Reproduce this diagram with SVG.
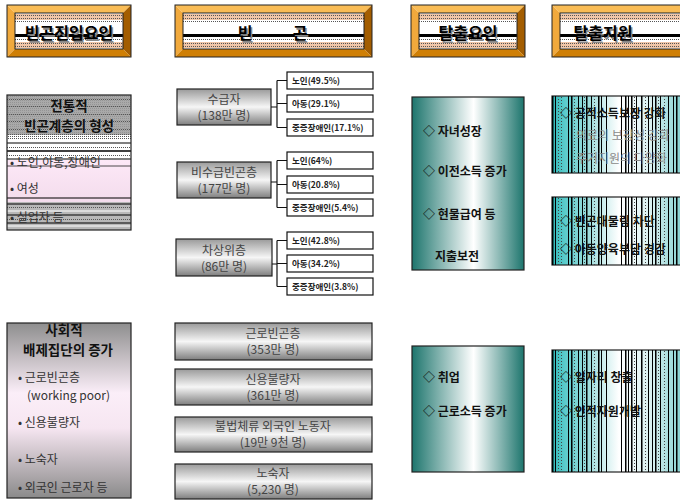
<svg xmlns="http://www.w3.org/2000/svg" width="680" height="502" viewBox="0 0 680 502">
<defs>
  <linearGradient id="gGray" x1="0" y1="0" x2="0" y2="1">
    <stop offset="0" stop-color="#9a9a9a"/>
    <stop offset="0.5" stop-color="#f6f6f6"/>
    <stop offset="1" stop-color="#7e7e7e"/>
  </linearGradient>
  <linearGradient id="gLeft2" x1="0" y1="0" x2="0" y2="1">
    <stop offset="0" stop-color="#8e8e8e"/>
    <stop offset="0.4" stop-color="#fbeef8"/>
    <stop offset="0.6" stop-color="#f6e6f1"/>
    <stop offset="1" stop-color="#8a8a8a"/>
  </linearGradient>
  <linearGradient id="gPink" x1="0" y1="0" x2="0" y2="1">
    <stop offset="0" stop-color="#fde8f7"/>
    <stop offset="1" stop-color="#f3dcec"/>
  </linearGradient>
  <linearGradient id="gTeal" x1="0" y1="0" x2="1" y2="0">
    <stop offset="0" stop-color="#1d756d"/>
    <stop offset="0.55" stop-color="#ffffff"/>
    <stop offset="1" stop-color="#1d756d"/>
  </linearGradient>
  <linearGradient id="gStripe" x1="0" y1="0" x2="1" y2="0">
    <stop offset="0" stop-color="#30b8b8"/>
    <stop offset="0.1" stop-color="#5ccccc"/>
    <stop offset="0.3" stop-color="#a8e0e0"/>
    <stop offset="0.5" stop-color="#ffffff"/>
    <stop offset="0.75" stop-color="#d8f0f0"/>
    <stop offset="1" stop-color="#7acccc"/>
  </linearGradient>
  <pattern id="pStripe" patternUnits="userSpaceOnUse" x="552" y="0" width="132" height="3">
    <rect x="0" y="0" width="1.5" height="3" fill="#000"/>
    <rect x="3" y="0" width="1" height="3" fill="#000"/>
    <rect x="6" y="0" width="1" height="1" fill="#444"/>
    <rect x="9" y="1" width="1" height="1" fill="#444"/>
    <rect x="16" y="0" width="1" height="3" fill="#000"/>
    <rect x="19" y="0" width="1.5" height="3" fill="#000"/>
    <rect x="22" y="0" width="1" height="1" fill="#444"/>
    <rect x="26" y="0" width="1" height="3" fill="#000"/>
    <rect x="30" y="0" width="1" height="3" fill="#000"/>
    <rect x="32" y="1" width="1" height="1" fill="#444"/>
    <rect x="34" y="0" width="1.5" height="3" fill="#000"/>
    <rect x="39" y="0" width="1" height="3" fill="#000"/>
    <rect x="42" y="0" width="1" height="1" fill="#444"/>
    <rect x="46" y="0" width="1.5" height="3" fill="#000"/>
    <rect x="49" y="0" width="1" height="3" fill="#000"/>
    <rect x="54" y="0" width="1" height="3" fill="#000"/>
    <rect x="69" y="0" width="1" height="3" fill="#000"/>
    <rect x="73" y="0" width="1.5" height="3" fill="#000"/>
    <rect x="76" y="0" width="1" height="3" fill="#000"/>
    <rect x="79" y="0" width="1.5" height="3" fill="#000"/>
    <rect x="82" y="1" width="1" height="1" fill="#444"/>
    <rect x="84" y="0" width="1" height="3" fill="#000"/>
    <rect x="89" y="0" width="1.5" height="3" fill="#000"/>
    <rect x="93" y="1" width="1" height="1" fill="#444"/>
    <rect x="96" y="0" width="1" height="3" fill="#000"/>
    <rect x="100" y="0" width="1" height="3" fill="#000"/>
    <rect x="103" y="0" width="1.5" height="3" fill="#000"/>
    <rect x="106" y="1" width="1" height="1" fill="#444"/>
    <rect x="108" y="0" width="1" height="3" fill="#000"/>
    <rect x="112" y="0" width="1" height="1" fill="#444"/>
    <rect x="116" y="0" width="1" height="3" fill="#000"/>
    <rect x="121" y="0" width="1" height="3" fill="#000"/>
    <rect x="124" y="0" width="1.5" height="3" fill="#000"/>
  </pattern>
  <pattern id="pDot" patternUnits="userSpaceOnUse" width="2" height="2">
    <rect x="0" y="0" width="1" height="1" fill="#555"/>
  </pattern>
</defs>
<style>
  text { font-family: "Noto Sans CJK KR", "Noto Sans", sans-serif; }
  .hdr { font-size: 16px; font-weight: bold; fill: #000; text-anchor: middle; }
  .hsh { font-size: 16px; font-weight: bold; fill: #888; text-anchor: middle; }
  .bvT { fill: #f9bc55; }
  .bvL { fill: #f1a93c; }
  .bvR { fill: #a35d00; }
  .bvB { fill: #cf7f05; }
  .frm { fill: none; stroke: #222; stroke-width: 1; }
  .tan { fill: #f0c6a8; }
  .dot { stroke: #555; stroke-width: 1; stroke-dasharray: 1 1; }
  .gbox { fill: url(#gGray); stroke: #222; stroke-width: 1.2; }
  .gtx { font-size: 12px; fill: #444; text-anchor: middle; }
  .sub { fill: #fff; stroke: #111; stroke-width: 1.2; }
  .stx { font-size: 8.5px; fill: #222; font-weight: bold; }
  .ltb { font-size: 13.5px; font-weight: bold; fill: #111; text-anchor: middle; }
  .ltx { font-size: 12px; fill: #333; }
  .teal { fill: url(#gTeal); stroke: #222; stroke-width: 1.2; }
  .ttx { font-size: 12px; font-weight: bold; fill: #111; }
  .sbox { fill: url(#gStripe); stroke: #222; stroke-width: 1.2; }
  .sover { fill: url(#pStripe); }
  .gry { font-size: 12px; fill: #8a8a8a; }
  .con { fill: none; stroke: #111; stroke-width: 1.2; }
</style>

<!-- Headers -->
<g id="hdr1">
  <polygon class="bvT" points="7,5 131,5 123,13 15,13"/>
  <polygon class="bvL" points="7,5 15,13 15,49 7,57"/>
  <polygon class="bvR" points="131,5 131,57 123,49 123,13"/>
  <polygon class="bvB" points="7,57 131,57 123,49 15,49"/>
  <rect x="15" y="13" width="108" height="36" fill="#fff"/>
  <rect class="tan" x="15" y="14" width="108" height="6"/>
  <line class="dot" x1="15" y1="15.5" x2="123" y2="15.5"/>
  <line class="dot" x1="15" y1="18.5" x2="123" y2="18.5"/>
  <line class="dot" x1="15" y1="21.5" x2="123" y2="21.5"/>
  <rect x="15" y="34" width="108" height="3" fill="#000"/>
  <line class="dot" x1="15" y1="39.5" x2="123" y2="39.5"/>
  <rect class="tan" x="15" y="42" width="108" height="6"/>
  <line class="dot" x1="15" y1="43.5" x2="123" y2="43.5"/>
  <line class="dot" x1="15" y1="46.5" x2="123" y2="46.5"/>
  <rect class="frm" x="7" y="5" width="124" height="52"/>
  <rect class="frm" x="15" y="13" width="108" height="36"/>
  <text class="hsh" x="70.5" y="40.5">빈곤진입요인</text>
  <text class="hdr" x="69" y="39">빈곤진입요인</text>
</g>
<g id="hdr2">
  <polygon class="bvT" points="175,5 372,5 364,13 183,13"/>
  <polygon class="bvL" points="175,5 183,13 183,49 175,57"/>
  <polygon class="bvR" points="372,5 372,57 364,49 364,13"/>
  <polygon class="bvB" points="175,57 372,57 364,49 183,49"/>
  <rect x="183" y="13" width="181" height="36" fill="#fff"/>
  <rect class="tan" x="183" y="14" width="181" height="6"/>
  <line class="dot" x1="183" y1="15.5" x2="364" y2="15.5"/>
  <line class="dot" x1="183" y1="18.5" x2="364" y2="18.5"/>
  <line class="dot" x1="183" y1="21.5" x2="364" y2="21.5"/>
  <rect x="183" y="34" width="181" height="3" fill="#000"/>
  <line class="dot" x1="183" y1="39.5" x2="364" y2="39.5"/>
  <rect class="tan" x="183" y="42" width="181" height="6"/>
  <line class="dot" x1="183" y1="43.5" x2="364" y2="43.5"/>
  <line class="dot" x1="183" y1="46.5" x2="364" y2="46.5"/>
  <rect class="frm" x="175" y="5" width="197" height="52"/>
  <rect class="frm" x="183" y="13" width="181" height="36"/>
  <text class="hsh" y="40.5"><tspan x="246.5">빈</tspan><tspan x="301.5">곤</tspan></text>
  <text class="hdr" y="39"><tspan x="245">빈</tspan><tspan x="300">곤</tspan></text>
</g>
<g id="hdr3">
  <polygon class="bvT" points="411,5 525,5 517,13 419,13"/>
  <polygon class="bvL" points="411,5 419,13 419,49 411,57"/>
  <polygon class="bvR" points="525,5 525,57 517,49 517,13"/>
  <polygon class="bvB" points="411,57 525,57 517,49 419,49"/>
  <rect x="419" y="13" width="98" height="36" fill="#fff"/>
  <rect class="tan" x="419" y="14" width="98" height="6"/>
  <line class="dot" x1="419" y1="15.5" x2="517" y2="15.5"/>
  <line class="dot" x1="419" y1="18.5" x2="517" y2="18.5"/>
  <line class="dot" x1="419" y1="21.5" x2="517" y2="21.5"/>
  <rect x="419" y="34" width="98" height="3" fill="#000"/>
  <line class="dot" x1="419" y1="39.5" x2="517" y2="39.5"/>
  <rect class="tan" x="419" y="42" width="98" height="6"/>
  <line class="dot" x1="419" y1="43.5" x2="517" y2="43.5"/>
  <line class="dot" x1="419" y1="46.5" x2="517" y2="46.5"/>
  <rect class="frm" x="411" y="5" width="114" height="52"/>
  <rect class="frm" x="419" y="13" width="98" height="36"/>
  <text class="hsh" x="469.5" y="40.5">탈출요인</text>
  <text class="hdr" x="468" y="39">탈출요인</text>
</g>
<g id="hdr4">
  <polygon class="bvT" points="552,5 690,5 682,13 560,13"/>
  <polygon class="bvL" points="552,5 560,13 560,49 552,57"/>
  <polygon class="bvB" points="552,57 690,57 682,49 560,49"/>
  <rect x="560" y="13" width="122" height="36" fill="#fff"/>
  <rect class="tan" x="560" y="14" width="122" height="6"/>
  <line class="dot" x1="560" y1="15.5" x2="682" y2="15.5"/>
  <line class="dot" x1="560" y1="18.5" x2="682" y2="18.5"/>
  <line class="dot" x1="560" y1="21.5" x2="682" y2="21.5"/>
  <rect x="560" y="34" width="122" height="3" fill="#000"/>
  <line class="dot" x1="560" y1="39.5" x2="682" y2="39.5"/>
  <rect class="tan" x="560" y="42" width="122" height="6"/>
  <line class="dot" x1="560" y1="43.5" x2="682" y2="43.5"/>
  <line class="dot" x1="560" y1="46.5" x2="682" y2="46.5"/>
  <rect class="frm" x="552" y="5" width="138" height="52"/>
  <rect class="frm" x="560" y="13" width="122" height="36"/>
  <text class="hsh" x="604.5" y="40.5">탈출지원</text>
  <text class="hdr" x="603" y="39">탈출지원</text>
</g>

<!-- Left column -->
<g id="left1">
  <rect x="7" y="95" width="124" height="40" fill="#a9a9a9"/>
  <rect x="7" y="95" width="124" height="40" fill="url(#pDot)" opacity="0.25"/>
  <line class="dot" x1="7" y1="99.5" x2="131" y2="99.5"/>
  <line class="dot" x1="7" y1="106.5" x2="131" y2="106.5"/>
  <line class="dot" x1="7" y1="114.5" x2="131" y2="114.5"/>
  <line class="dot" x1="7" y1="121.5" x2="131" y2="121.5"/>
  <line class="dot" x1="7" y1="129.5" x2="131" y2="129.5"/>
  <rect x="7" y="134" width="124" height="6" fill="url(#pDot)"/>
  <rect x="7" y="140" width="124" height="20" fill="#fff"/>
  <line x1="7" y1="143" x2="131" y2="143" stroke="#000"/>
  <line class="dot" x1="7" y1="147.5" x2="131" y2="147.5"/>
  <line x1="7" y1="151" x2="131" y2="151" stroke="#000" stroke-width="1.5"/>
  <line class="dot" x1="7" y1="155.5" x2="131" y2="155.5"/>
  <line x1="7" y1="159" x2="131" y2="159" stroke="#000"/>
  <rect x="7" y="160" width="124" height="42" fill="url(#gPink)"/>
  <line x1="7" y1="166" x2="131" y2="166" stroke="#222" stroke-width="0.8"/>
  <line x1="7" y1="198" x2="131" y2="198" stroke="#000" stroke-width="1.2"/>
  <rect x="7" y="202" width="124" height="28" fill="#b8b8b8"/>
  <line x1="7" y1="204" x2="131" y2="204" stroke="#000" stroke-width="1.2"/>
  <line class="dot" x1="7" y1="207.5" x2="131" y2="207.5"/>
  <line x1="7" y1="211" x2="131" y2="211" stroke="#fff"/>
  <line x1="7" y1="215" x2="131" y2="215" stroke="#000"/>
  <line class="dot" x1="7" y1="219.5" x2="131" y2="219.5"/>
  <line x1="7" y1="223" x2="131" y2="223" stroke="#000"/>
  <line x1="7" y1="226" x2="131" y2="226" stroke="#fff"/>
  <rect x="7" y="95" width="124" height="135" fill="none" stroke="#222" stroke-width="1.2"/>
  <text class="ltb" x="69" y="111">전통적</text>
  <text class="ltb" x="69" y="131">빈곤계층의 형성</text>
  <text class="ltx" x="10" y="167">• 노인,아동,장애인</text>
  <text class="ltx" x="10" y="193">• 여성</text>
  <text class="ltx" x="10" y="222">• 실업자 등</text>
</g>
<g id="left2">
  <rect x="7" y="323" width="124" height="175" fill="url(#gLeft2)" stroke="#222" stroke-width="1.2"/>
  <text class="ltb" x="64" y="335">사회적</text>
  <text class="ltb" x="68" y="355">배제집단의  증가</text>
  <text class="ltx" x="18" y="382">• 근로빈곤층</text>
  <text class="ltx" x="27" y="400">(working poor)</text>
  <text class="ltx" x="18" y="427">• 신용불량자</text>
  <text class="ltx" x="18" y="464">• 노숙자</text>
  <text class="ltx" x="18" y="492">• 외국인 근로자 등</text>
</g>

<!-- Middle column -->
<g id="sugup">
  <rect class="gbox" x="177" y="89" width="94" height="36"/>
  <text class="gtx" x="224" y="104">수급자</text>
  <text class="gtx" x="224" y="120">(138만 명)</text>
</g>
<g id="sugup-a"><rect class="sub" x="287" y="72" width="86" height="17"/><text class="stx" x="292" y="84">노인(49.5%)</text></g>
<g id="sugup-b"><rect class="sub" x="287" y="95" width="86" height="17"/><text class="stx" x="292" y="107">아동(29.1%)</text></g>
<g id="sugup-c"><rect class="sub" x="287" y="119" width="86" height="17"/><text class="stx" x="292" y="131">중증장애인(17.1%)</text></g>

<g id="bisugup">
  <rect class="gbox" x="177" y="162" width="94" height="36"/>
  <text class="gtx" x="224" y="177">비수급빈곤층</text>
  <text class="gtx" x="224" y="193">(177만 명)</text>
</g>
<g id="bisugup-a"><rect class="sub" x="287" y="152" width="86" height="17"/><text class="stx" x="292" y="164">노인(64%)</text></g>
<g id="bisugup-b"><rect class="sub" x="287" y="176" width="86" height="17"/><text class="stx" x="292" y="188">아동(20.8%)</text></g>
<g id="bisugup-c"><rect class="sub" x="287" y="199" width="86" height="17"/><text class="stx" x="292" y="211">중증장애인(5.4%)</text></g>

<g id="chasang">
  <rect class="gbox" x="176" y="239" width="96" height="37"/>
  <text class="gtx" x="224" y="255">차상위층</text>
  <text class="gtx" x="224" y="271">(86만 명)</text>
</g>
<g id="chasang-a"><rect class="sub" x="287" y="232" width="86" height="17"/><text class="stx" x="292" y="244">노인(42.8%)</text></g>
<g id="chasang-b"><rect class="sub" x="287" y="255" width="86" height="17"/><text class="stx" x="292" y="267">아동(34.2%)</text></g>
<g id="chasang-c"><rect class="sub" x="287" y="278" width="86" height="17"/><text class="stx" x="292" y="290">중증장애인(3.8%)</text></g>

<g id="geunro">
  <rect class="gbox" x="175" y="323" width="197" height="37"/>
  <text class="gtx" x="273" y="338">근로빈곤층</text>
  <text class="gtx" x="273" y="354">(353만 명)</text>
</g>
<g id="sinyong">
  <rect class="gbox" x="175" y="369" width="197" height="36"/>
  <text class="gtx" x="273" y="384">신용불량자</text>
  <text class="gtx" x="273" y="400">(361만 명)</text>
</g>
<g id="bulbeop">
  <rect class="gbox" x="175" y="417" width="197" height="35"/>
  <text class="gtx" x="273" y="431">불법체류 외국인 노동자</text>
  <text class="gtx" x="273" y="447">(19만 9천 명)</text>
</g>
<g id="nosuk">
  <rect class="gbox" x="175" y="464" width="197" height="35"/>
  <text class="gtx" x="273" y="478">노숙자</text>
  <text class="gtx" x="273" y="494">(5,230 명)</text>
</g>

<!-- Connectors -->
<g id="connectors">
  <path class="con" d="M271,107 H277 M277,80.5 V127.5 M277,80.5 H287 M277,103.5 H287 M277,127.5 H287"/>
  <path class="con" d="M271,182 H277 M277,160.5 V207.5 M277,160.5 H287 M277,184.5 H287 M277,207.5 H287"/>
  <path class="con" d="M272,264 H277 M277,240.5 V286.5 M277,240.5 H287 M277,263.5 H287 M277,286.5 H287"/>
</g>

<!-- Escape factors -->
<g id="escape1">
  <rect class="teal" x="412" y="97" width="112" height="173"/>
  <text class="ttx" x="423" y="136">◇ 자녀성장</text>
  <text class="ttx" x="423" y="176">◇ 이전소득 증가</text>
  <text class="ttx" x="423" y="219">◇ 현물급여 등</text>
  <text class="ttx" x="435" y="261">지출보전</text>
</g>
<g id="escape2">
  <rect class="teal" x="412" y="346" width="112" height="126"/>
  <text class="ttx" x="423" y="382">◇ 취업</text>
  <text class="ttx" x="423" y="416">◇ 근로소득 증가</text>
</g>

<!-- Escape support -->
<g id="support1">
  <rect class="sbox" x="552" y="96" width="134" height="77"/>
  <rect class="sover" x="552" y="96" width="134" height="77"/>
  <text class="ttx" x="560" y="118">◇ 공적소득보장 강화</text>
  <text class="gry" x="576" y="140">의료의 보장성 강화</text>
  <text class="gry" x="576" y="163">주거지원의 다양화</text>
</g>
<g id="support2">
  <rect class="sbox" x="552" y="197" width="134" height="68"/>
  <rect class="sover" x="552" y="197" width="134" height="68"/>
  <text class="ttx" x="560" y="226">◇ 빈곤대물림 차단</text>
  <text class="ttx" x="560" y="254">◇ 아동양육부담 경감</text>
</g>
<g id="support3">
  <rect class="sbox" x="552" y="350" width="134" height="122"/>
  <rect class="sover" x="552" y="350" width="134" height="122"/>
  <text class="ttx" x="560" y="382">◇ 일자리 창출</text>
  <text class="ttx" x="560" y="416">◇ 인적자원개발</text>
</g>
</svg>
